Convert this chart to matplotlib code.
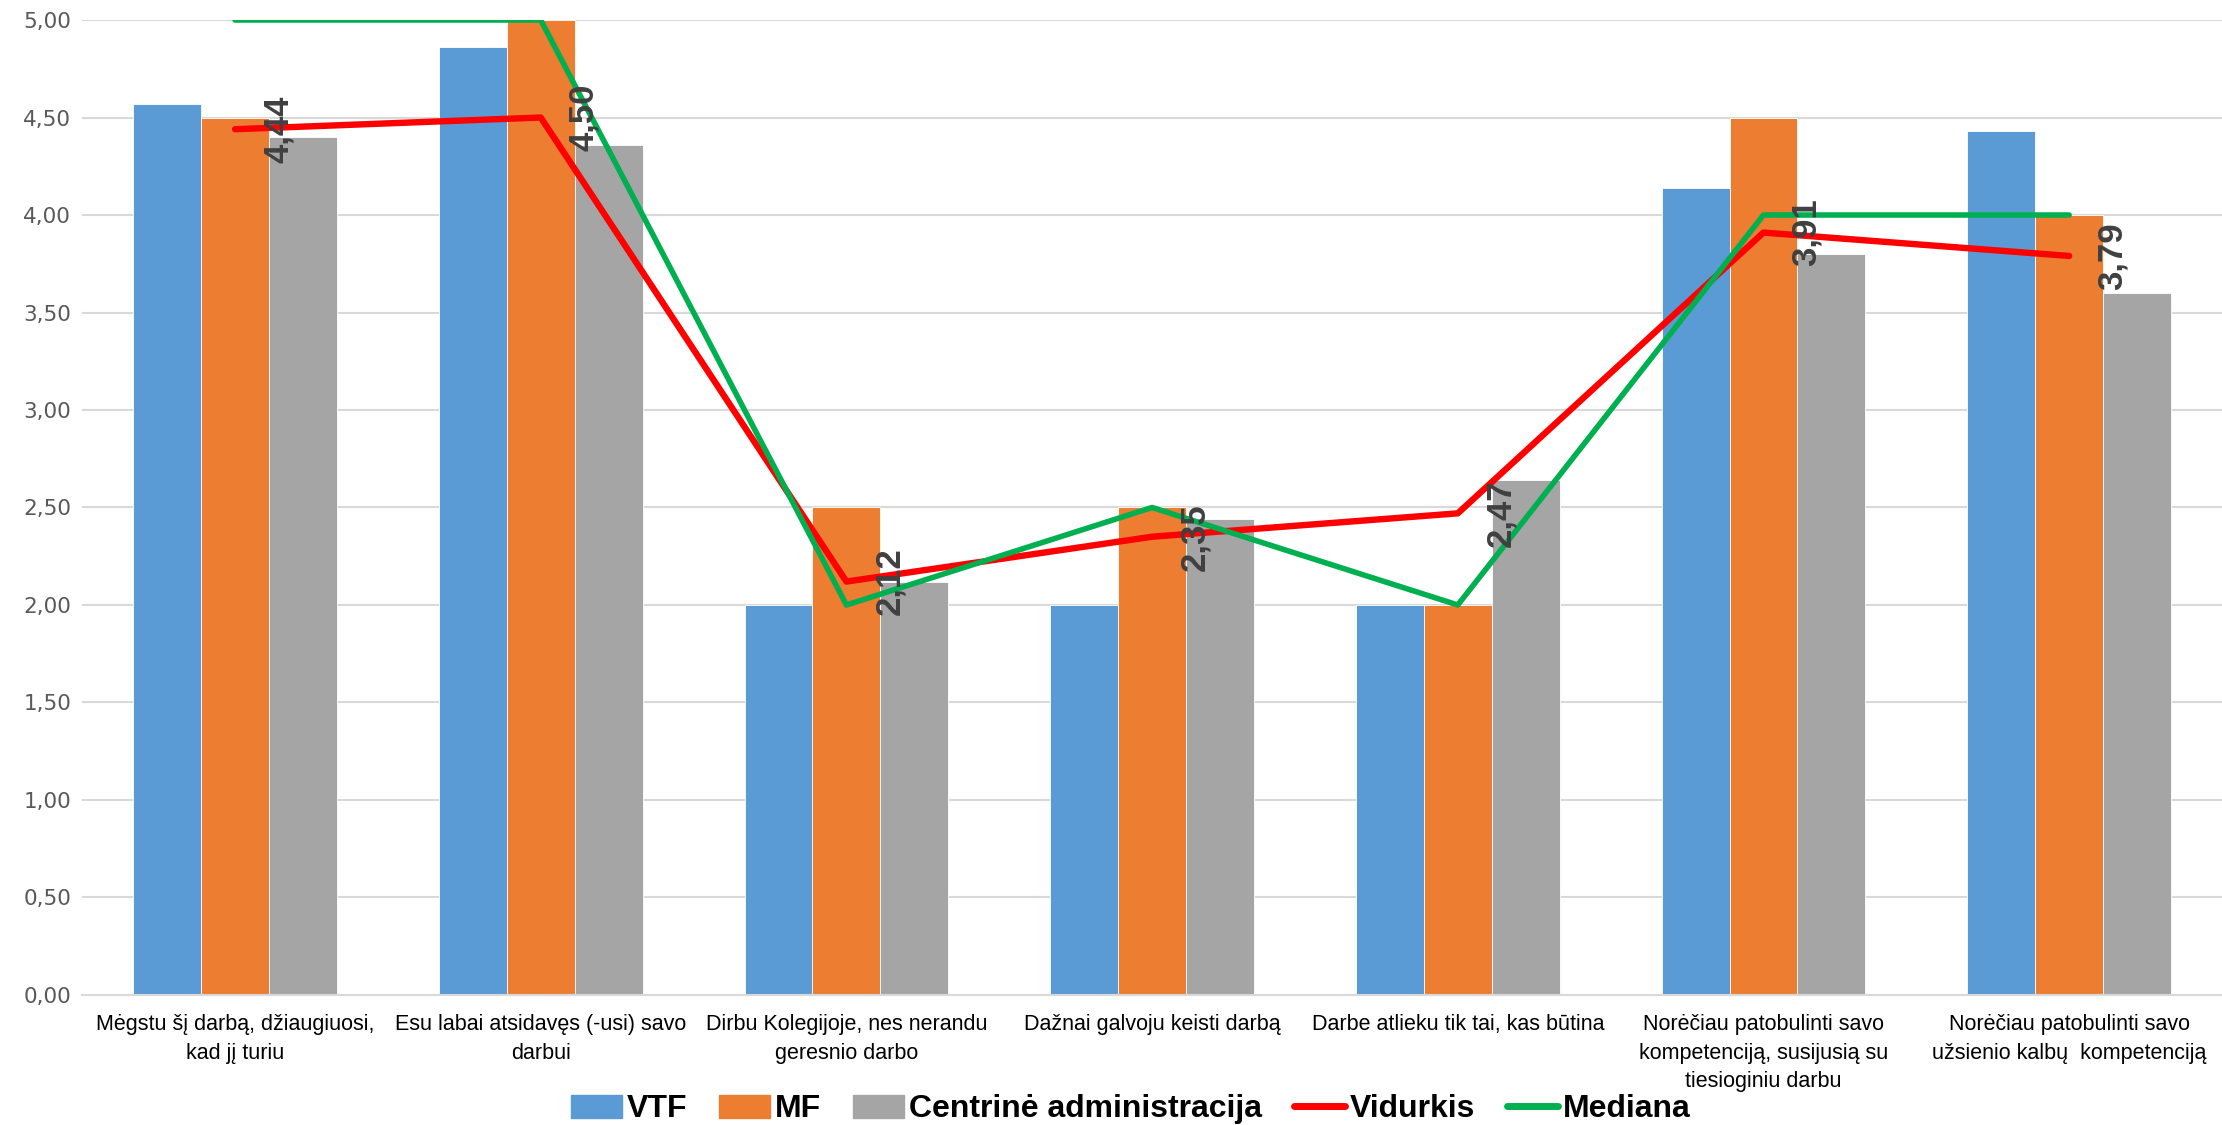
import numpy as np
from matplotlib import pyplot as plt
from matplotlib.lines import Line2D
from matplotlib.patches import Patch

categories = [
    "Mėgstu šį darbą, džiaugiuosi,\nkad jį turiu",
    "Esu labai atsidavęs (-usi) savo\ndarbui",
    "Dirbu Kolegijoje, nes nerandu\ngeresnio darbo",
    "Dažnai galvoju keisti darbą",
    "Darbe atlieku tik tai, kas būtina",
    "Norėčiau patobulinti savo\nkompetenciją, susijusią su\ntiesioginiu darbu",
    "Norėčiau patobulinti savo\nužsienio kalbų  kompetenciją",
]
vtf = [4.57, 4.86, 2.00, 2.00, 2.00, 4.14, 4.43]
mf = [4.50, 5.00, 2.50, 2.50, 2.00, 4.50, 4.00]
centrine = [4.40, 4.36, 2.12, 2.44, 2.64, 3.80, 3.60]
vidurkis = [4.44, 4.50, 2.12, 2.35, 2.47, 3.91, 3.79]
mediana = [5.00, 5.00, 2.00, 2.50, 2.00, 4.00, 4.00]
y_ticks = [0, 0.5, 1, 1.5, 2, 2.5, 3, 3.5, 4, 4.5, 5]

sans = ["Liberation Sans", "DejaVu Sans"]

fig = plt.figure(figsize=(22.22, 11.25), dpi=100)
ax = fig.add_axes([0.037, 0.1156, 0.963, 0.8666])

x = np.arange(len(categories))
w = 0.222

ax.bar(x - w, vtf, w, color="#5B9BD5", edgecolor="white", linewidth=0.6, zorder=2)
ax.bar(x, mf, w, color="#ED7D31", edgecolor="white", linewidth=0.6, zorder=2)
ax.bar(x + w, centrine, w, color="#A5A5A5", edgecolor="white", linewidth=0.6, zorder=2)

ax.plot(x, vidurkis, color="#FF0000", linewidth=4.6,
        solid_capstyle="round", solid_joinstyle="round", zorder=3)
ax.plot(x, mediana, color="#00B050", linewidth=4.0,
        solid_capstyle="round", solid_joinstyle="round", zorder=4)

# data labels for the mean line
for xi, v in zip(x, vidurkis):
    ax.annotate(
        f"{v:.2f}".replace(".", ","),
        (xi, v),
        xytext=(31, 0),
        textcoords="offset points",
        rotation=90,
        ha="center",
        va="center",
        fontsize=25,
        fontweight="bold",
        family=sans,
        color="#404040",
        zorder=5,
    )

ax.set_xlim(-0.5, len(categories) - 0.5)
ax.set_ylim(0, 5)
ax.set_yticks(y_ticks)
ax.set_yticklabels([f"{t:.2f}".replace(".", ",") for t in y_ticks],
                   fontsize=15.5, family="DejaVu Sans", color="#595959")
ax.set_xticks(x)
ax.set_xticklabels(categories, fontsize=15.5, family=sans, color="black",
                   linespacing=1.45)
ax.tick_params(axis="both", length=0)
ax.tick_params(axis="y", pad=8)
ax.tick_params(axis="x", pad=14)

ax.grid(axis="y", color="#D9D9D9", linewidth=1.5, zorder=0)
ax.set_axisbelow(True)
for side in ["top", "right", "left"]:
    ax.spines[side].set_visible(False)
ax.spines["bottom"].set_color("#D9D9D9")
ax.spines["bottom"].set_linewidth(1.5)

handles = [
    Patch(color="#5B9BD5", label="VTF"),
    Patch(color="#ED7D31", label="MF"),
    Patch(color="#A5A5A5", label="Centrinė administracija"),
    Line2D([], [], color="#FF0000", linewidth=5, solid_capstyle="round", label="Vidurkis"),
    Line2D([], [], color="#00B050", linewidth=5, solid_capstyle="round", label="Mediana"),
]
fig.legend(
    handles=handles,
    loc="lower center",
    bbox_to_anchor=(0.509, -0.025),
    ncol=5,
    frameon=False,
    prop={"family": sans, "weight": "bold", "size": 23},
    handlelength=1.6,
    handleheight=0.75,
    handletextpad=0.15,
    columnspacing=1.0,
)

fig.savefig("out.png", dpi=100)
